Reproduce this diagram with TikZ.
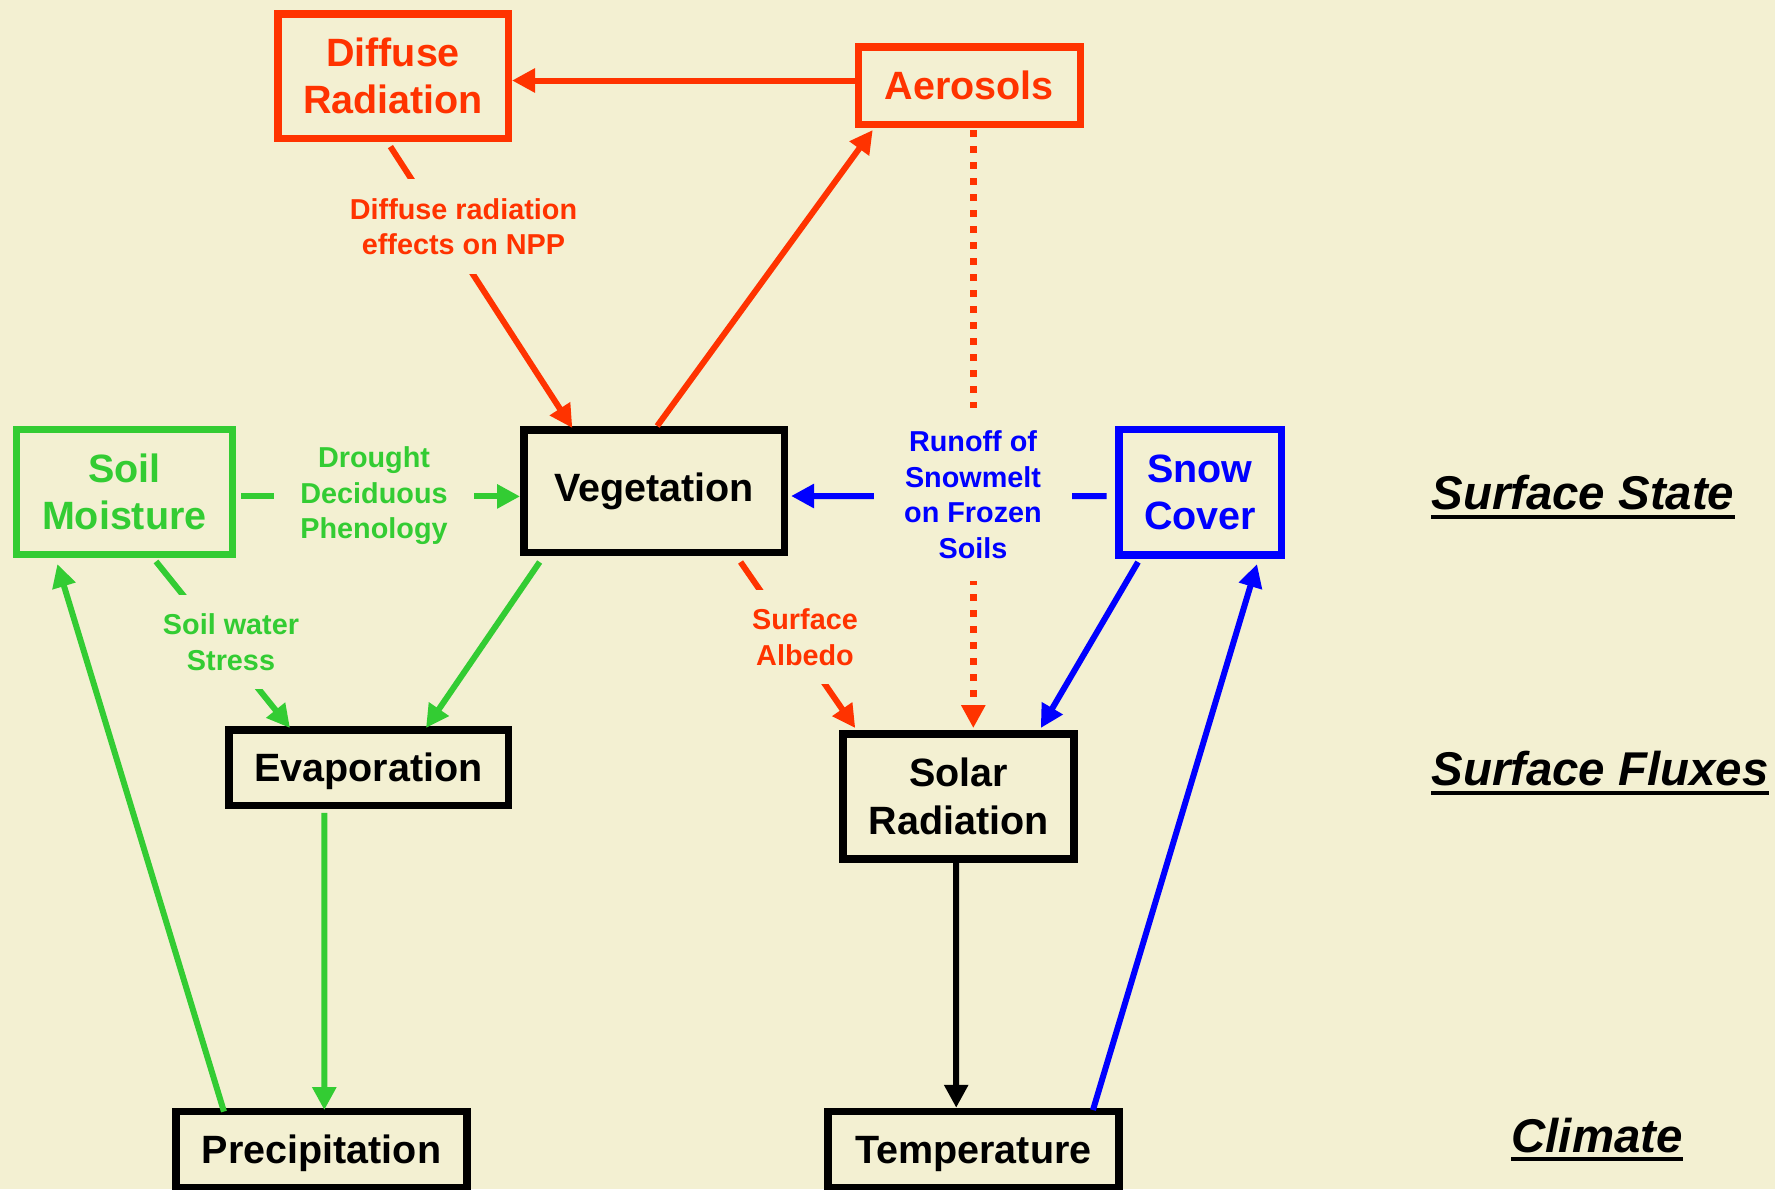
\documentclass[tikz,border=0pt]{standalone}
\usepackage{fontspec}
\setmainfont{Liberation Sans}
\usetikzlibrary{arrows.meta,calc}
\definecolor{bgc}{RGB}{243,240,210}
\definecolor{redo}{RGB}{255,51,0}
\definecolor{grn}{RGB}{51,204,51}
\definecolor{blu}{RGB}{0,0,255}
\begin{document}
\begin{tikzpicture}[x=0.5pt,y=-0.5pt,
  box/.style={draw, line width=3.75pt, inner sep=0pt, align=center,
    font=\fontsize{19.75}{23.7}\selectfont\bfseries, fill=bgc},
  lowtext/.style={text depth=0pt},
  lab/.style={fill=bgc, inner xsep=4pt, inner ysep=9.5pt, align=center,
    font=\fontsize{14.4}{17.7}\selectfont\bfseries},
  arr/.style={line width=3pt, -{Triangle[length=11.5pt,width=11.5pt]}},
  dotarr/.style={line width=3.5pt, dash pattern=on 3.5pt off 4.5pt, -{Triangle[length=11.5pt,width=11.5pt]}},
  ttl/.style={inner sep=0pt, anchor=base west,
    font=\fontsize{23.7}{28}\selectfont\bfseries\itshape},
  uline/.style={line width=2pt},
]
\fill[bgc] (0,0) rectangle (1775,1189);
\useasboundingbox (0,0) rectangle (1775,1189);

% boxes
\node[box, draw=redo, text=redo, minimum width=115.25pt, minimum height=62.25pt] (dr) at (393,76) {Diffuse\\Radiation};
\node[box, draw=redo, text=redo, minimum width=110.9pt, minimum height=38.75pt] (aer) at (969.4,85.5) {Aerosols};
\node[box, draw=grn, text=grn, minimum width=108pt, minimum height=62.5pt] (sm) at (124.3,491.8) {Soil\\Moisture};
\node[box, minimum width=130.4pt, minimum height=61.25pt] (veg) at (654.2,491) {Vegetation};
\node[box, draw=blu, text=blu, minimum width=81.25pt, minimum height=62.8pt] (snow) at (1200,492.2) {Snow\\Cover};
\node[box, lowtext, minimum width=139.75pt, minimum height=37.75pt] (evap) at (368.5,767.5) {Evaporation};
\node[box, minimum width=115.5pt, minimum height=62.5pt] (solar) at (958.5,796.3) {Solar\\Radiation};
\node[box, lowtext, minimum width=145.5pt, minimum height=37.9pt] (precip) at (321.5,1149.4) {Precipitation};
\node[box, lowtext, minimum width=145.5pt, minimum height=37.9pt] (temp) at (973.3,1149.4) {Temperature};

% connectors
\draw[arr, redo] ($(aer.west)+(0,-5)$) -- ($(dr.east)+(0,4.5)$);
\draw[arr, redo] ($(veg.north)+(3,0)$) -- ($(aer.south west)+(18,2)$);
\draw[arr, redo] ($(dr.south)+(-2.6,4.6)$) -- ($(veg.north west)+(52.3,2)$);
\draw[arr, grn] ($(sm.east)+(5,4.6)$) -- ($(veg.west)+(0,5.4)$);
\draw[arr, blu] ($(snow.west)+(-8.4,3.8)$) -- ($(veg.east)+(2.7,5)$);
\draw[dotarr, redo] ($(aer.south)+(3.9,2)$) -- ($(solar.north)+(14.8,-2)$);
\draw[arr, grn] ($(sm.south)+(31.7,3.4)$) -- ($(evap.north west)+(65,2)$);
\draw[arr, grn] ($(veg.south west)+(19.6,6)$) -- ($(evap.north)+(57.5,2)$);
\draw[arr, redo] ($(veg.south east)+(-47.8,6)$) -- ($(solar.north west)+(16,-2)$);
\draw[arr, blu] ($(snow.south west)+(23,3.3)$) -- ($(solar.north east)+(-37,-2)$);
\draw[arr, grn] ($(evap.south)+(-44.2,3.8)$) -- ($(precip.north)+(2.8,2.3)$);
\draw[arr, grn] ($(precip.north west)+(51.7,3.8)$) -- ($(sm.south west)+(44.8,6)$);
\draw[arr, black] ($(solar.south)+(-2.3,0)$) -- ($(temp.north)+(-17.1,0)$);
\draw[arr, blu] ($(temp.north east)+(-29.6,2.3)$) -- ($(snow.south east)+(-28,5.3)$);

% connector labels
\node[lab, text=redo] (ldiff) at (463.5,226.5) {Diffuse radiation\\effects on NPP};
\node[lab, text=grn, inner xsep=13.25pt, inner ysep=2pt] (ldrought) at (374,496) {Drought\\Deciduous\\Phenology};
\node[lab, text=grn] (lsoil) at (231,642) {Soil water\\Stress};
\node[lab, text=redo] (lalb) at (805,637) {Surface\\Albedo};
\node[lab, text=blu, inner xsep=15.25pt, inner ysep=11.3pt] (lrun) at (973,494.6) {Runoff of\\Snowmelt\\on Frozen\\Soils};

% level titles
\node[ttl] (ts) at (1431,509) {Surface State};
\draw[uline] ($(ts.base west)+(0,8)$) -- ($(ts.base east)+(0,8)$);
\node[ttl] (tf) at (1431,785.5) {Surface Fluxes};
\draw[uline] ($(tf.base west)+(0,7.5)$) -- ($(tf.base east)+(0,7.5)$);
\node[ttl] (tc) at (1511,1152) {Climate};
\draw[uline] ($(tc.base west)+(0,7)$) -- ($(tc.base east)+(0,7)$);
\end{tikzpicture}
\end{document}
